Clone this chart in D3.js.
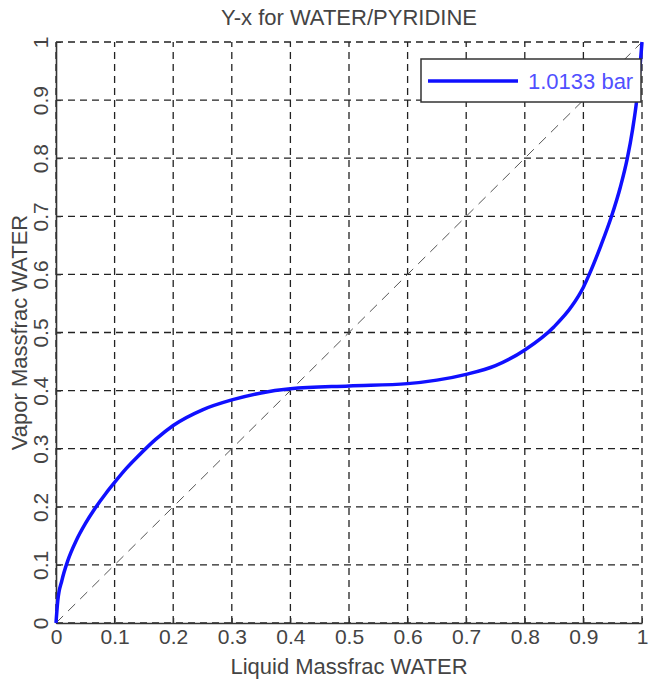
<!DOCTYPE html>
<html>
<head>
<meta charset="utf-8">
<script src="https://cdn.jsdelivr.net/npm/d3@7"></script>
<style>
  body { margin: 0; background: #fff; }
  svg { display: block; }
  text { font-family: "Liberation Sans", Arial, sans-serif; }
</style>
</head>
<body>
<script>
// liquid / vapor mass fraction of water
var liquidX = [0, 0.003, 0.01, 0.02, 0.035, 0.05, 0.067, 0.085, 0.1, 0.12, 0.14, 0.17, 0.2, 0.25, 0.3, 0.35, 0.4,
               0.5, 0.6, 0.65, 0.7, 0.75, 0.8, 0.85, 0.88, 0.9, 0.91, 0.93, 0.948, 0.963, 0.975, 0.984, 0.991, 0.996, 1.0];
var vaporY  = [0, 0.038, 0.073, 0.107, 0.143, 0.171, 0.198, 0.223, 0.242, 0.266, 0.287, 0.316, 0.34, 0.367, 0.384, 0.396, 0.403,
               0.408, 0.412, 0.418, 0.428, 0.443, 0.47, 0.51, 0.545, 0.578, 0.6, 0.65, 0.7, 0.75, 0.8, 0.85, 0.9, 0.95, 1.0];
var diagonal = [0, 1];
var tickVals = [0, 0.1, 0.2, 0.3, 0.4, 0.5, 0.6, 0.7, 0.8, 0.9, 1];
var tickLabels = ["0", "0.1", "0.2", "0.3", "0.4", "0.5", "0.6", "0.7", "0.8", "0.9", "1"];
var seriesName = "1.0133 bar";

var W = 651, H = 679;
var m = { left: 56, right: 9, top: 42, bottom: 56 };

var svg = d3.select(document.body).append("svg")
  .attr("width", W).attr("height", H);

var x = d3.scaleLinear().domain([0, 1]).range([m.left, W - m.right]);
var y = d3.scaleLinear().domain([0, 1]).range([H - m.bottom, m.top]);

var grid = svg.append("g");
tickVals.forEach(function(t) {
  grid.append("line")
    .attr("x1", x(t)).attr("x2", x(t))
    .attr("y1", y(0)).attr("y2", y(1))
    .attr("stroke", "#222").attr("stroke-width", 1.3)
    .attr("stroke-dasharray", "7,5");
  grid.append("line")
    .attr("x1", x(0)).attr("x2", x(1))
    .attr("y1", y(t)).attr("y2", y(t))
    .attr("stroke", "#222").attr("stroke-width", 1.3)
    .attr("stroke-dasharray", "7,5");
});

// 45 degree reference line
svg.append("line")
  .attr("x1", x(diagonal[0])).attr("y1", y(diagonal[0]))
  .attr("x2", x(diagonal[1])).attr("y2", y(diagonal[1]))
  .attr("stroke", "#555").attr("stroke-width", 1)
  .attr("stroke-dasharray", "10,7");

// axes: left and bottom solid, ticks inside
var fmt = function(d, i) { return tickLabels[i]; };
var xAxis = svg.append("g")
  .attr("transform", "translate(0," + y(0) + ")")
  .call(d3.axisBottom(x).tickValues(tickVals).tickFormat(fmt).tickSizeInner(-5).tickSizeOuter(0).tickPadding(8));
var yAxis = svg.append("g")
  .attr("transform", "translate(" + x(0) + ",0)")
  .call(d3.axisLeft(y).tickValues(tickVals).tickFormat(fmt).tickSizeInner(-5).tickSizeOuter(0).tickPadding(8));

[xAxis, yAxis].forEach(function(a) {
  a.select(".domain").attr("stroke", "#333").attr("stroke-width", 1.6);
  a.selectAll(".tick line").attr("stroke", "#333");
  a.selectAll(".tick text").attr("fill", "#444").style("font-size", "21px");
});
xAxis.selectAll(".tick text").attr("dy", "0.71em").attr("y", 6);
yAxis.selectAll(".tick text")
  .attr("x", null).attr("dy", "0.35em")
  .attr("text-anchor", "middle")
  .attr("transform", "translate(-15,0) rotate(-90)");

// curve
var line = d3.line()
  .x(function(d, i) { return x(liquidX[i]); })
  .y(function(d, i) { return y(vaporY[i]); })
  .curve(d3.curveMonotoneX);
svg.append("path")
  .datum(liquidX)
  .attr("d", line)
  .attr("fill", "none")
  .attr("stroke", "#1010ff")
  .attr("stroke-width", 3.5);

// titles
svg.append("text")
  .attr("x", (x(0) + x(1)) / 2).attr("y", 25)
  .attr("text-anchor", "middle").attr("fill", "#444")
  .style("font-size", "22px")
  .text("Y-x for WATER/PYRIDINE");
svg.append("text")
  .attr("x", (x(0) + x(1)) / 2).attr("y", 674)
  .attr("text-anchor", "middle").attr("fill", "#444")
  .style("font-size", "22px")
  .text("Liquid Massfrac WATER");
svg.append("text")
  .attr("transform", "translate(27," + (y(0) + y(1)) / 2 + ") rotate(-90)")
  .attr("text-anchor", "middle").attr("fill", "#444")
  .style("font-size", "22px")
  .text("Vapor Massfrac WATER");

// legend
var lg = svg.append("g").attr("transform", "translate(421,59)");
lg.append("rect")
  .attr("width", 220).attr("height", 43)
  .attr("fill", "#fff").attr("stroke", "#333").attr("stroke-width", 1.5);
lg.append("line")
  .attr("x1", 7).attr("x2", 97).attr("y1", 22).attr("y2", 22)
  .attr("stroke", "#1010ff").attr("stroke-width", 3.5);
lg.append("text")
  .attr("x", 107).attr("y", 30)
  .attr("fill", "#5050ff").style("font-size", "22px")
  .text(seriesName);
</script>
</body>
</html>
